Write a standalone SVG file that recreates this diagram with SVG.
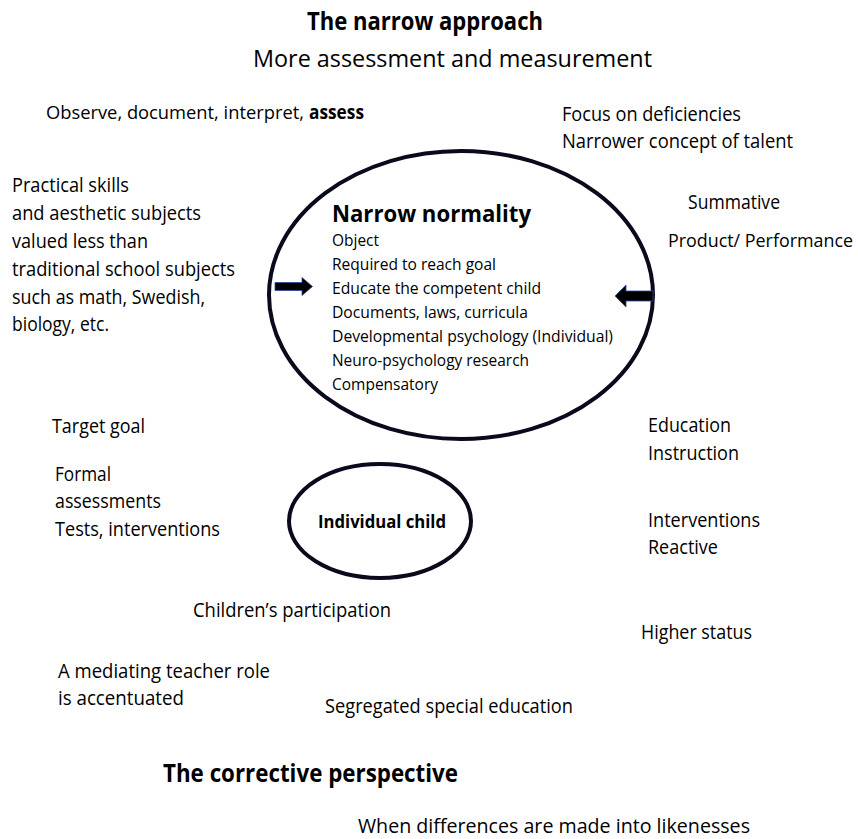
<svg xmlns="http://www.w3.org/2000/svg" width="858" height="839" viewBox="0 0 858 839">
  <style>
    text { font-family: "Open Sans", Lato, "Liberation Sans", sans-serif; fill: #000; }
    .t { font-size: 19.5px; }
    .in { font-size: 16.5px; }
    .h { font-size: 25px; font-weight: bold; }
    .sub { font-size: 24px; }
    .b { font-weight: bold; }
    .ring { fill: none; stroke: #0a0a1c; stroke-width: 4; }
    .arrow { fill: #000; stroke: #2a4a9a; stroke-width: 0.8; }
  </style>
  <rect width="858" height="839" fill="#fff"/>

  <!-- headings -->
  <g id="heading-top">
    <text class="h" x="307" y="30" textLength="236" lengthAdjust="spacingAndGlyphs">The narrow approach</text>
    <text class="sub" x="253" y="67" textLength="399" lengthAdjust="spacingAndGlyphs">More assessment and measurement</text>
  </g>

  <!-- outer notes -->
  <g id="note-observe">
    <text x="46" y="119" font-size="17.5" textLength="258" lengthAdjust="spacingAndGlyphs">Observe, document, interpret,</text>
    <text class="t b" x="309" y="119" textLength="55" lengthAdjust="spacingAndGlyphs">assess</text>
  </g>
  <g id="note-focus">
    <text class="t" x="562" y="121" textLength="179" lengthAdjust="spacingAndGlyphs">Focus on deficiencies</text>
    <text class="t" x="562" y="148" textLength="231" lengthAdjust="spacingAndGlyphs">Narrower concept of talent</text>
  </g>
  <g id="note-practical">
    <text class="t" x="12" y="192" textLength="117" lengthAdjust="spacingAndGlyphs">Practical skills</text>
    <text class="t" x="12" y="220" textLength="189" lengthAdjust="spacingAndGlyphs">and aesthetic subjects</text>
    <text class="t" x="12" y="248" textLength="136" lengthAdjust="spacingAndGlyphs">valued less than</text>
    <text class="t" x="12" y="276" textLength="223" lengthAdjust="spacingAndGlyphs">traditional school subjects</text>
    <text class="t" x="12" y="304" textLength="193" lengthAdjust="spacingAndGlyphs">such as math, Swedish,</text>
    <text class="t" x="12" y="331" textLength="97" lengthAdjust="spacingAndGlyphs">biology, etc.</text>
  </g>
  <g id="note-summative">
    <text class="t" x="688" y="209" textLength="92" lengthAdjust="spacingAndGlyphs">Summative</text>
  </g>
  <g id="note-product">
    <text x="668" y="247" font-size="17.5" textLength="185" lengthAdjust="spacingAndGlyphs">Product/ Performance</text>
  </g>

  <!-- central ellipse -->
  <g id="narrow-normality">
    <ellipse class="ring" cx="461" cy="295" rx="192" ry="144"/>
    <text x="332" y="222" font-size="23" font-weight="bold" textLength="199" lengthAdjust="spacingAndGlyphs">Narrow normality</text>
    <text class="in" x="332" y="246" textLength="47" lengthAdjust="spacingAndGlyphs">Object</text>
    <text class="in" x="332" y="270" textLength="164" lengthAdjust="spacingAndGlyphs">Required to reach goal</text>
    <text class="in" x="332" y="294" textLength="209" lengthAdjust="spacingAndGlyphs">Educate the competent child</text>
    <text class="in" x="332" y="318" textLength="196" lengthAdjust="spacingAndGlyphs">Documents, laws, curricula</text>
    <text class="in" x="332" y="342" textLength="281" lengthAdjust="spacingAndGlyphs">Developmental psychology (Individual)</text>
    <text class="in" x="332" y="366" textLength="197" lengthAdjust="spacingAndGlyphs">Neuro-psychology research</text>
    <text class="in" x="332" y="390" textLength="106" lengthAdjust="spacingAndGlyphs">Compensatory</text>
  </g>

  <!-- inward arrows -->
  <g id="connectors">
    <path class="arrow" d="M275,282.5 H302 V277.5 L312.5,286.5 L302,295.5 V290.5 H275 Z"/>
    <path class="arrow" d="M653,291 H626 V285 L615,296 L626,307 V301 H653 Z"/>
  </g>

  <g id="note-target">
    <text class="t" x="52" y="433" textLength="93" lengthAdjust="spacingAndGlyphs">Target goal</text>
  </g>
  <g id="note-formal">
    <text class="t" x="55" y="481" textLength="56" lengthAdjust="spacingAndGlyphs">Formal</text>
    <text class="t" x="55" y="508" textLength="106" lengthAdjust="spacingAndGlyphs">assessments</text>
    <text class="t" x="55" y="536" textLength="165" lengthAdjust="spacingAndGlyphs">Tests, interventions</text>
  </g>

  <g id="individual-child">
    <ellipse class="ring" cx="380" cy="521" rx="91" ry="57"/>
    <text x="318" y="528" font-size="17" font-weight="bold" textLength="128" lengthAdjust="spacingAndGlyphs">Individual child</text>
  </g>

  <g id="note-education">
    <text class="t" x="648" y="432" textLength="83" lengthAdjust="spacingAndGlyphs">Education</text>
    <text class="t" x="648" y="460" textLength="91" lengthAdjust="spacingAndGlyphs">Instruction</text>
  </g>
  <g id="note-interventions">
    <text class="t" x="648" y="527" textLength="112" lengthAdjust="spacingAndGlyphs">Interventions</text>
    <text class="t" x="648" y="554" textLength="70" lengthAdjust="spacingAndGlyphs">Reactive</text>
  </g>
  <g id="note-participation">
    <text class="t" x="193" y="617" textLength="198" lengthAdjust="spacingAndGlyphs">Children’s participation</text>
  </g>
  <g id="note-status">
    <text class="t" x="641" y="639" textLength="111" lengthAdjust="spacingAndGlyphs">Higher status</text>
  </g>
  <g id="note-teacher">
    <text class="t" x="58" y="678" textLength="212" lengthAdjust="spacingAndGlyphs">A mediating teacher role</text>
    <text class="t" x="58" y="705" textLength="126" lengthAdjust="spacingAndGlyphs">is accentuated</text>
  </g>
  <g id="note-segregated">
    <text class="t" x="325" y="713" textLength="248" lengthAdjust="spacingAndGlyphs">Segregated special education</text>
  </g>

  <g id="heading-bottom">
    <text class="h" x="163" y="782" textLength="295" lengthAdjust="spacingAndGlyphs">The corrective perspective</text>
    <text class="t" x="358" y="833" textLength="392" lengthAdjust="spacingAndGlyphs">When differences are made into likenesses</text>
  </g>
</svg>
